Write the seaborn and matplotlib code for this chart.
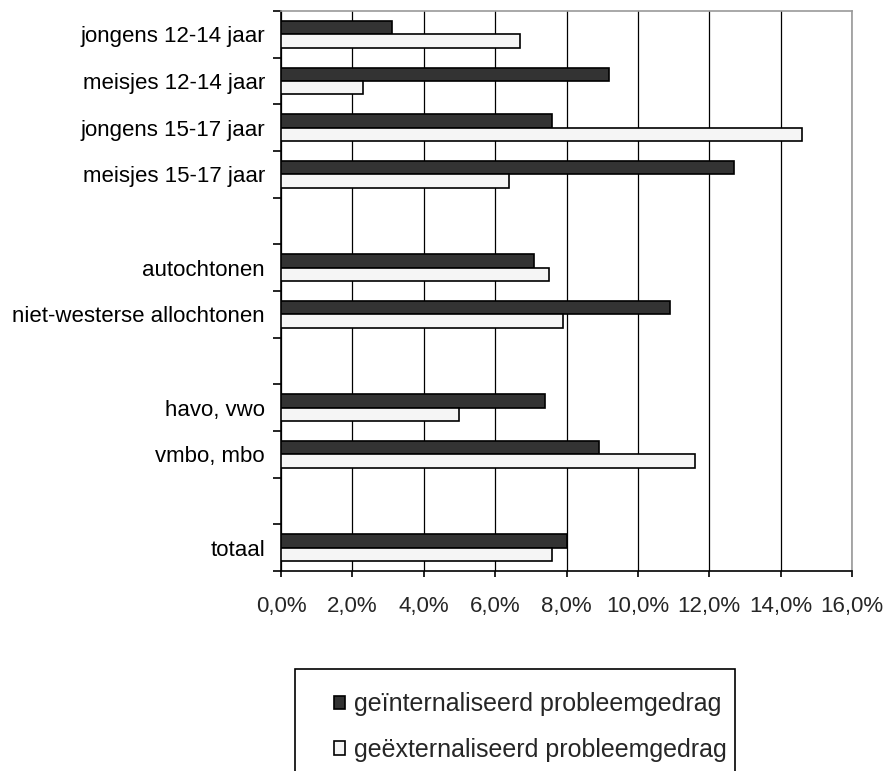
import matplotlib
matplotlib.use("Agg")
import matplotlib.pyplot as plt
from matplotlib.patches import Rectangle
from matplotlib.ticker import FixedLocator, FuncFormatter
import pandas as pd
import seaborn as sns

categories = ["jongens 12-14 jaar", "meisjes 12-14 jaar", "jongens 15-17 jaar",
              "meisjes 15-17 jaar", "autochtonen", "niet-westerse allochtonen",
              "havo, vwo", "vmbo, mbo", "totaal"]
# blank rows separate the groups
order = ["jongens 12-14 jaar", "meisjes 12-14 jaar", "jongens 15-17 jaar",
         "meisjes 15-17 jaar", " ", "autochtonen", "niet-westerse allochtonen",
         "  ", "havo, vwo", "vmbo, mbo", "   ", "totaal"]
internalized = [3.1, 9.2, 7.6, 12.7, 7.1, 10.9, 7.4, 8.9, 8.0]
externalized = [6.7, 2.3, 14.6, 6.4, 7.5, 7.9, 5.0, 11.6, 7.6]
series = ["geïnternaliseerd probleemgedrag", "geëxternaliseerd probleemgedrag"]
xticks = [0, 2, 4, 6, 8, 10, 12, 14, 16]

rows = []
for cat, a, b in zip(categories, internalized, externalized):
    rows.append({"groep": cat, "reeks": series[0], "pct": a})
    rows.append({"groep": cat, "reeks": series[1], "pct": b})
df = pd.DataFrame(rows)

sns.set_style("white")
plt.rcParams["font.family"] = ["Liberation Sans", "DejaVu Sans"]

fig = plt.figure(figsize=(8.84, 7.71), dpi=100)
ax = fig.add_axes([281 / 884, 1 - 571 / 771, 571 / 884, 560 / 771])

sns.barplot(data=df, y="groep", x="pct", hue="reeks", order=order,
            hue_order=series, palette={series[0]: "#333333", series[1]: "#f5f5f5"},
            edgecolor="black", linewidth=1.2, width=0.57, errorbar=None,
            orient="h", ax=ax, zorder=3)

ax.set_xlim(0, 16)
ax.set_ylim(len(order) - 0.5, -0.5)
ax.set_xticks(xticks)
ax.xaxis.set_major_formatter(FuncFormatter(lambda v, p: f"{v:.1f}%".replace(".", ",")))
ax.grid(axis="x", color="black", linewidth=0.9, zorder=0)
ax.grid(axis="y", visible=False)
ax.set_axisbelow(True)
ax.set_xlabel("")
ax.set_ylabel("")

ax.yaxis.set_minor_locator(FixedLocator([i - 0.5 for i in range(len(order) + 1)]))
ax.tick_params(axis="y", which="major", length=0, pad=11.5, labelsize=16, colors="black")
ax.tick_params(axis="y", which="minor", length=5.5, width=1.2, color="black", left=True)
ax.tick_params(axis="x", which="major", length=4.5, width=1.2, pad=13.5, labelsize=16,
               color="black", bottom=True)

for side in ["left", "bottom"]:
    ax.spines[side].set_color("black")
    ax.spines[side].set_linewidth(1.2)
for side in ["top", "right"]:
    ax.spines[side].set_visible(True)
    ax.spines[side].set_color("#999999")
    ax.spines[side].set_linewidth(1.2)

handles, labels = ax.get_legend_handles_labels()
ax.get_legend().remove()
fig.legend(handles, labels, loc="upper left",
           bbox_to_anchor=(321 / 884, 1 - 680 / 771), frameon=False,
           fontsize=18, handlelength=0.45, handleheight=0.45, handletextpad=0.35,
           labelspacing=0.85, borderpad=0)
fig.patches.append(Rectangle((295 / 884, -0.05), 440 / 884, 0.05 + 102 / 771,
                             transform=fig.transFigure, fill=False,
                             edgecolor="black", linewidth=1.2))

fig.savefig("out.png", dpi=100, facecolor="white")
